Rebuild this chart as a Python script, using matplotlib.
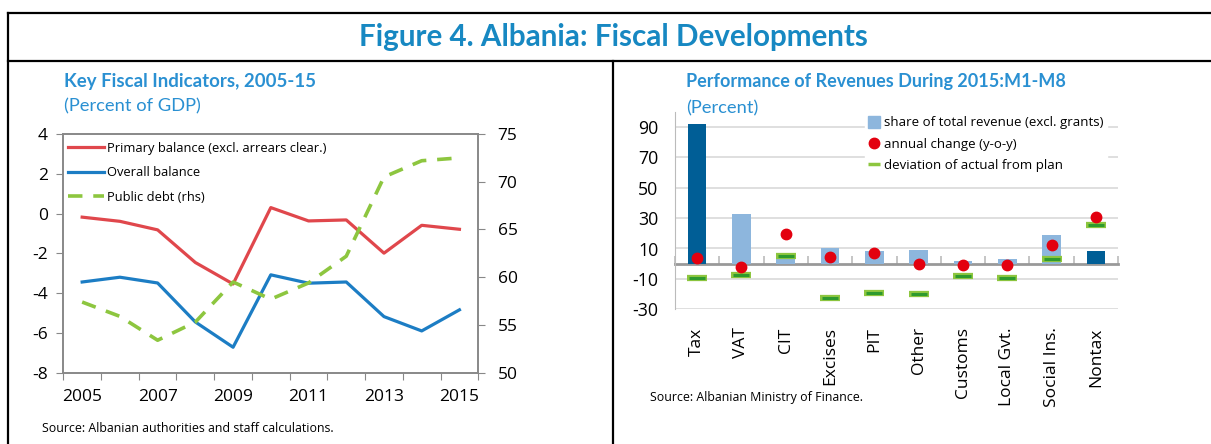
import numpy as np
import matplotlib
matplotlib.use("Agg")
import matplotlib.pyplot as plt
from matplotlib.lines import Line2D

plt.rcParams['font.family'] = ['Open Sans', 'DejaVu Sans']
plt.rcParams['axes.unicode_minus'] = False

# left panel data
years = list(range(2005, 2016))
primary_bal = [-0.18, -0.39, -0.82, -2.46, -3.54, 0.30, -0.37, -0.32, -1.99, -0.59, -0.79]
overall_bal = [-3.44, -3.20, -3.49, -5.45, -6.72, -3.08, -3.50, -3.44, -5.18, -5.90, -4.84]
public_debt = [57.4, 55.9, 53.4, 55.3, 59.5, 57.7, 59.4, 62.2, 70.5, 72.2, 72.5]

# right panel data
cats = ["Tax", "VAT", "CIT", "Excises", "PIT", "Other", "Customs", "Local Gvt.", "Social Ins.", "Nontax"]
share = [92, 33, 6.2, 10.5, 8.1, 8.8, 1.8, 3.3, 19, 8.3]
yoy = [3.9, -2, 19.5, 4.2, 6.8, -0.2, -0.9, -0.9, 12, 30.8]
dev_plan = [-9.2, -7.2, 5.2, -22.3, -19, -19.7, -8.3, -9.6, 3.3, 25.4]
dark_cats = ["Tax", "Nontax"]

RED = '#E0474C'
BLUE = '#1C7DC4'
GREEN = '#8DC63F'
DKGREEN = '#2E9A2E'
LBAR = '#8DB6DD'
DBAR = '#005E96'
AXC = '#888888'
TBLUE = '#1788C2'
SBLUE = '#2A90D2'

fig = plt.figure(figsize=(12.11, 4.44), dpi=100)

# frame lines
W, H = 1211, 444
def fl(x0, y0, x1, y1):
    fig.add_artist(Line2D([x0 / W, x1 / W], [1 - y0 / H, 1 - y1 / H], color='black', lw=1.6))
fl(8, 13, W, 13)
fl(8, 13, 8, H)
fl(8, 61, W, 61)
fl(613, 61, 613, H)

fig.text(613 / W, 1 - 37 / H, "Figure 4. Albania: Fiscal Developments", ha='center', va='center',
         fontsize=21.3, fontweight='bold', color=TBLUE, family=['Lato', 'DejaVu Sans'])

# ---- left panel
ax = fig.add_axes([63.3 / W, 1 - 372.7 / H, (478.3 - 63.3) / W, (372.7 - 134) / H])
x = np.arange(len(years))
ax.plot(x, primary_bal, color=RED, lw=2.3, label="Primary balance (excl. arrears clear.)")
ax.plot(x, overall_bal, color=BLUE, lw=2.3, label="Overall balance")
ax.set_xlim(-0.5, len(years) - 0.5)
ax.set_ylim(-8, 4)
ax.set_yticks(np.arange(-8, 5, 2))
ax.set_xticks(np.arange(len(years) + 1) - 0.5)
ax.set_xticklabels([])
ax.set_xticks(x[::2], minor=True)
ax.set_xticklabels([str(y) for y in years[::2]], minor=True)
ax.tick_params(axis='x', which='major', direction='out', length=5, color=AXC)
ax.tick_params(axis='x', which='minor', length=0, pad=12, labelsize=12.5)
ax.tick_params(axis='y', direction='out', length=5, color=AXC, labelsize=12.5, pad=6)
for s in ax.spines.values():
    s.set_color(AXC)
    s.set_linewidth(1.2)

ax2 = ax.twinx()
ax2.plot(x, public_debt, color=GREEN, lw=2.6, ls=(0, (4, 3)), label="Public debt (rhs)")
ax2.set_ylim(50, 75)
ax2.set_yticks(np.arange(50, 76, 5))
ax2.tick_params(axis='y', direction='out', length=5, color=AXC, labelsize=12.5, pad=9)
for s in ax2.spines.values():
    s.set_color(AXC)
    s.set_linewidth(1.2)

h1, l1 = ax.get_legend_handles_labels()
h2, l2 = ax2.get_legend_handles_labels()
ax2.legend(h1 + h2, l1 + l2, loc='upper left', frameon=False, fontsize=9.3, handlelength=2.75,
           handletextpad=0.2, labelspacing=0.9, borderaxespad=0.0, bbox_to_anchor=(0.0, 0.99))

fig.text(64 / W, 1 - 82 / H, "Key Fiscal Indicators, 2005-15", ha='left', va='center',
         fontsize=13.4, fontweight='bold', color=SBLUE, family=['Lato', 'DejaVu Sans'])
fig.text(64 / W, 1 - 106.5 / H, "(Percent of GDP)", ha='left', va='center',
         fontsize=13.2, color=SBLUE, family=['Lato', 'DejaVu Sans'])
fig.text(42 / W, 1 - 428 / H, "Source: Albanian authorities and staff calculations.", ha='left', va='center',
         fontsize=8.9, color='black')

# ---- right panel
bx = fig.add_axes([675 / W, 1 - 309.3 / H, (1118 - 675) / W, (309.3 - 111.7) / H])
cx = np.arange(len(cats))
bar_cols = [DBAR if c in dark_cats else LBAR for c in cats]
bx.bar(cx, share, width=0.42, color=bar_cols, zorder=2)
bx.plot(cx, dev_plan, ls='none', marker='_', ms=14, mew=4.5, color=GREEN, zorder=3)
bx.plot(cx, dev_plan, ls='none', marker='_', ms=12, mew=2.2, color=DKGREEN, zorder=4)
bx.plot(cx, yoy, ls='none', marker='o', ms=7.5, color='#E3000F', zorder=5)
bx.set_xlim(-0.5, len(cats) - 0.5)
bx.set_ylim(-30, 100)
bx.set_yticks(np.arange(-30, 91, 20))
bx.grid(axis='y', color='#D9D9D9', lw=1.2, zorder=0)
bx.set_axisbelow(True)
bx.set_xticks(cx)
bx.set_xticklabels(cats, rotation=90, va='top', ha='center')
bx.tick_params(axis='x', length=0, pad=13, labelsize=12.5)
bx.tick_params(axis='y', length=0, pad=12, labelsize=12.8)
for k in ['top', 'right', 'bottom']:
    bx.spines[k].set_visible(False)
bx.spines['left'].set_color('#BBBBBB')

zero_ax = bx.secondary_xaxis(0, transform=bx.transData)
zero_ax.set_xticks(np.arange(len(cats) + 1) - 0.5)
zero_ax.set_xticklabels([])
zero_ax.tick_params(direction='in', length=6, color='#BBBBBB', width=1.2)
zero_ax.spines['bottom'].set_color('#999999')
zero_ax.spines['bottom'].set_linewidth(2)

handles = [Line2D([], [], ls='none', marker='s', ms=9, color=LBAR),
           Line2D([], [], ls='none', marker='o', ms=7.5, color='#E3000F'),
           Line2D([], [], ls='none', marker='_', ms=9, mew=2.5, color=GREEN)]
labels = ["share of total revenue (excl. grants)", "annual change (y-o-y)", "deviation of actual from plan"]
leg = bx.legend(handles, labels, loc='upper right', bbox_to_anchor=(0.99, 1.03), fontsize=9.5,
                frameon=True, handlelength=0.8, handletextpad=0.3, labelspacing=0.62, borderpad=0.3)
leg.get_frame().set_edgecolor('white')
leg.get_frame().set_facecolor('white')
leg.get_frame().set_alpha(1)
leg.set_zorder(10)

fig.text(686 / W, 1 - 82 / H, "Performance of Revenues During 2015:M1-M8", ha='left', va='center',
         fontsize=13, fontweight='bold', color=SBLUE, family=['Lato', 'DejaVu Sans'])
fig.text(686 / W, 1 - 108 / H, "(Percent)", ha='left', va='center',
         fontsize=13.2, color=SBLUE, family=['Lato', 'DejaVu Sans'])
fig.text(650 / W, 1 - 397 / H, "Source: Albanian Ministry of Finance.", ha='left', va='center',
         fontsize=8.9, color='black')

fig.savefig("out.png", dpi=100)
